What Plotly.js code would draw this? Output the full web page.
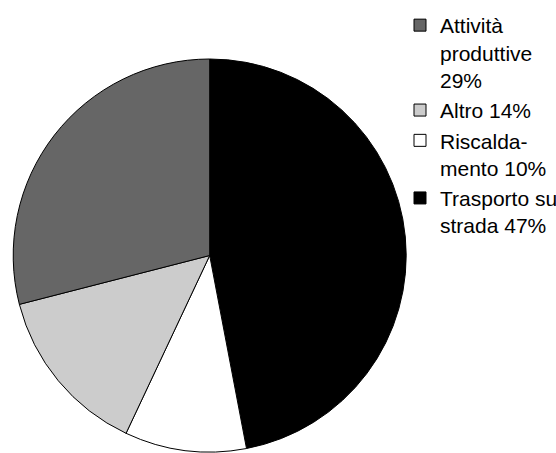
<!DOCTYPE html>
<html>
<head>
<meta charset="utf-8">
<script src="https://cdn.plot.ly/plotly-3.0.1.min.js"></script>
<style>html,body{margin:0;padding:0;background:#fff;overflow:hidden;}#wrap{width:556px;height:453px;overflow:hidden;}#chart{width:620px;height:453px;}</style>
</head>
<body>
<div id="wrap"><div id="chart"></div></div>
<script>
const labels = ["Trasporto su<br>strada 47%", "Riscalda-<br>mento 10%", "Altro 14%", "Attività<br>produttive<br>29%"];
const values = [47, 10, 14, 29];
const colors = ["#000000", "#ffffff", "#cccccc", "#666666"];

const W = 620, H = 453;
const trace = {
  type: "pie",
  labels: labels,
  values: values,
  sort: false,
  direction: "clockwise",
  rotation: 0,
  textinfo: "none",
  hoverinfo: "none",
  marker: {colors: colors, line: {color: "#000000", width: 1}},
  domain: {x: [12.7/W, 406.7/W], y: [1/H, 1 - 59/H]}
};

const layout = {
  width: W, height: H,
  margin: {l: 0, r: 0, t: 0, b: 0},
  paper_bgcolor: "#ffffff",
  showlegend: true,
  legend: {
    x: 400/W, y: 1 - 5/H, xanchor: "left", yanchor: "top",
    valign: "top", traceorder: "reversed",
    bgcolor: "rgba(0,0,0,0)",
    font: {family: "Liberation Sans, Arial, sans-serif", size: 21, color: "#000000"},
    tracegroupgap: 0, itemwidth: 30
  }
};

Plotly.newPlot("chart", [trace], layout, {displayModeBar: false, staticPlot: true});
</script>
</body>
</html>
